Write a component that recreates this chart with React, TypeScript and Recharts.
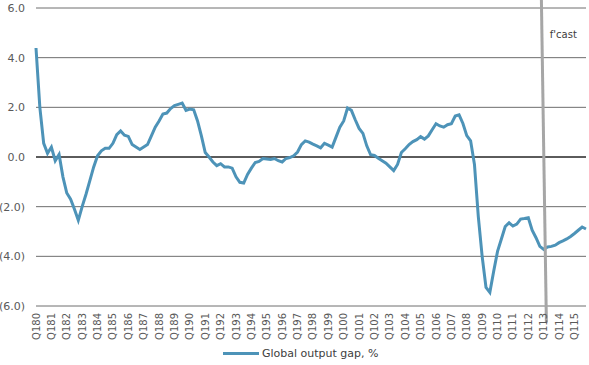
import {
  LineChart,
  Line,
  XAxis,
  YAxis,
  CartesianGrid,
  Legend,
  ReferenceLine,
  ReferenceDot,
} from 'recharts'

// one label per year, placed on Q1
const yearLabels = [
  'Q180', 'Q181', 'Q182', 'Q183', 'Q184', 'Q185', 'Q186', 'Q187', 'Q188', 'Q189',
  'Q190', 'Q191', 'Q192', 'Q193', 'Q194', 'Q195', 'Q196', 'Q197', 'Q198', 'Q199',
  'Q100', 'Q101', 'Q102', 'Q103', 'Q104', 'Q105', 'Q106', 'Q107', 'Q108', 'Q109',
  'Q110', 'Q111', 'Q112', 'Q113', 'Q114', 'Q115',
]

// quarterly global output gap, %, Q1 1980 .. Q4 2015
const outputGap = [
  4.39, 2.0, 0.55, 0.15,
  0.4, -0.15, 0.1, -0.8,
  -1.45, -1.7, -2.1, -2.55,
  -2.0, -1.5, -0.95, -0.4,
  0.05, 0.25, 0.35, 0.35,
  0.55, 0.9, 1.05, 0.88,
  0.83, 0.5, 0.4, 0.3,
  0.4, 0.5, 0.85, 1.2,
  1.45, 1.73, 1.77, 1.95,
  2.07, 2.12, 2.17, 1.88,
  1.93, 1.9, 1.45, 0.85,
  0.18, 0.0, -0.2, -0.35,
  -0.27, -0.4, -0.4, -0.45,
  -0.8, -1.02, -1.05, -0.7,
  -0.45, -0.22, -0.18, -0.06,
  -0.08, -0.1, -0.06, -0.15,
  -0.2, -0.06, -0.02, 0.05,
  0.2, 0.5, 0.65, 0.6,
  0.52, 0.45, 0.37, 0.55,
  0.48, 0.4, 0.8, 1.2,
  1.45, 1.97, 1.88, 1.5,
  1.15, 0.95, 0.45, 0.09,
  0.06, -0.05, -0.15, -0.25,
  -0.4, -0.55, -0.3, 0.18,
  0.33, 0.5, 0.62, 0.7,
  0.82, 0.72, 0.85, 1.1,
  1.34, 1.25, 1.2, 1.3,
  1.34, 1.65, 1.7, 1.35,
  0.86, 0.65, -0.3, -2.4,
  -4.0, -5.25, -5.45, -4.6,
  -3.8, -3.3, -2.8, -2.65,
  -2.78, -2.7, -2.5, -2.48,
  -2.45, -2.95, -3.25, -3.6,
  -3.72, -3.62, -3.6, -3.55,
  -3.45, -3.38, -3.3, -3.2,
  -3.08, -2.95, -2.82, -2.9,
]

const yTicks = [6, 4, 2, 0, -2, -4, -6]

// forecast marker (slightly slanted in the source), in data units
const forecastLine = [
  { x: 131.4, y: 6.35 },
  { x: 132.7, y: -6.67 },
]
const forecastLabel = { x: 137.1, y: 4.92, text: "f'cast" }

const data = outputGap.map((v, i) => ({ q: i, gap: v }))
const xTicks = yearLabels.map((_, i) => i * 4)

const FONT = '"DejaVu Sans", sans-serif'
const LINE_COLOR = '#4d93b8'

function fmtY(v: number) {
  return v < 0 ? `(${Math.abs(v).toFixed(1)})` : v.toFixed(1)
}

function QuarterTick(props: any) {
  const { x, y, payload } = props
  return (
    <g transform={`translate(${x},${y - 1}) rotate(-90)`}>
      <text
        x={0}
        y={0}
        textAnchor="end"
        dominantBaseline="central"
        fontSize={10}
        fontFamily={FONT}
        fill="#595959"
      >
        {yearLabels[payload.value / 4]}
      </text>
    </g>
  )
}

function GapLegend() {
  return (
    <div style={{ display: 'flex', alignItems: 'center', height: 18, marginLeft: 223 }}>
      <div style={{ width: 36, height: 3, background: LINE_COLOR, marginRight: 3 }} />
      <span style={{ fontSize: 11, fontFamily: FONT, color: '#404040' }}>
        Global output gap, %
      </span>
    </div>
  )
}

export default function App() {
  return (
    <div style={{ position: 'absolute', left: 0, top: 0, background: '#fff' }}>
      <LineChart
        width={589}
        height={365}
        data={data}
        margin={{ top: 8, right: 3, left: 0, bottom: 0 }}
      >
        <CartesianGrid vertical={false} stroke="#6e6e6e" strokeWidth={1} />
        <XAxis
          dataKey="q"
          type="number"
          domain={[0, 143]}
          ticks={xTicks}
          tick={QuarterTick}
          interval={0}
          axisLine={false}
          tickLine={false}
          height={41}
        />
        <YAxis
          domain={[-6, 6]}
          ticks={yTicks}
          tickFormatter={fmtY}
          tick={{ fontSize: 11, fill: '#595959', fontFamily: FONT }}
          axisLine={false}
          tickLine={false}
          tickMargin={5}
          width={36}
        />
        <ReferenceLine y={0} stroke="#000" strokeWidth={1} />
        <Legend
          verticalAlign="bottom"
          content={GapLegend}
          wrapperStyle={{ left: 0, bottom: 3, width: 589 }}
        />
        <Line
          type="linear"
          dataKey="gap"
          name="Global output gap, %"
          stroke={LINE_COLOR}
          strokeWidth={3}
          dot={false}
          isAnimationActive={false}
        />
        <ReferenceLine
          segment={forecastLine}
          stroke="#a6a6a6"
          strokeWidth={3}
          ifOverflow="visible"
        />
        <ReferenceDot
          x={forecastLabel.x}
          y={forecastLabel.y}
          r={0}
          fill="none"
          stroke="none"
          ifOverflow="visible"
          label={{
            value: forecastLabel.text,
            position: 'center',
            fontSize: 10,
            fontFamily: FONT,
            fill: '#404040',
          }}
        />
      </LineChart>
    </div>
  )
}
